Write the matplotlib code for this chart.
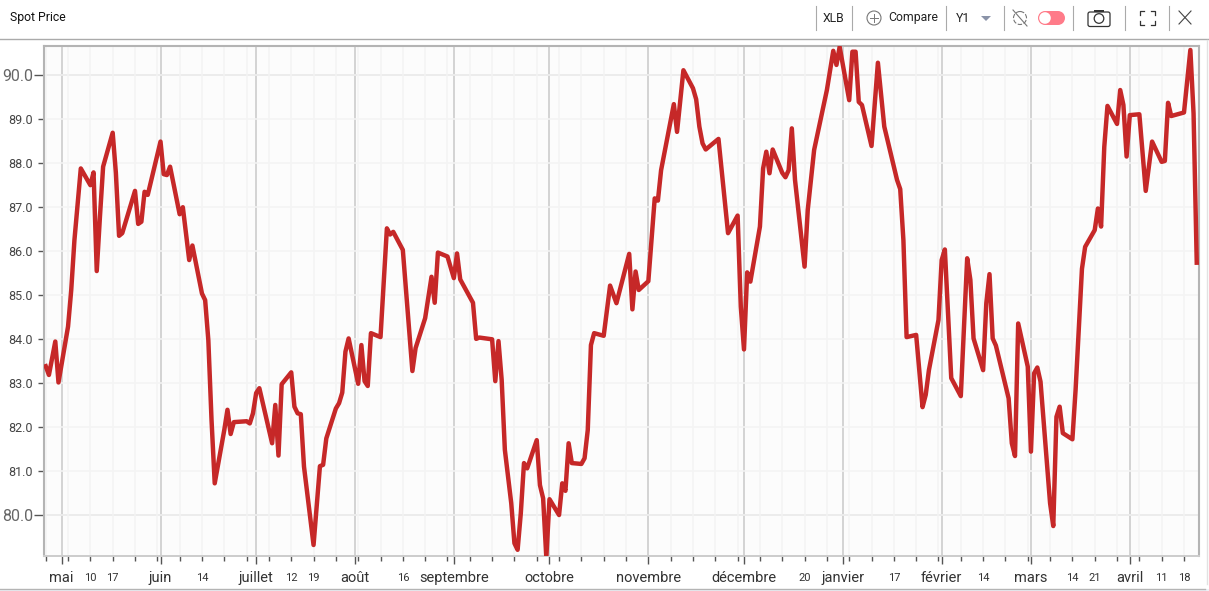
import matplotlib
matplotlib.use("Agg")
import matplotlib.pyplot as plt
import pandas as pd
from matplotlib.patches import Circle, FancyBboxPatch, Polygon, Rectangle

plt.rcParams["font.family"] = ["Roboto", "DejaVu Sans"]

# days since 1 May 2021 and XLB spot price
days = [-5, -4, -2, -1, 2, 3, 4, 6, 9, 10, 11, 12, 13, 16, 17, 18, 19, 23, 24, 25, 26, 27,
        31, 32, 33, 34, 37, 38, 40, 41, 44, 45, 46, 47, 48, 51, 52, 53, 54, 58, 59, 60, 61, 62,
        66, 67, 68, 69, 72, 73, 74, 75, 76, 79, 81, 82, 83, 86, 87, 88, 89, 90, 93, 94, 95, 96, 97,
        100, 102, 103, 104, 107, 110, 111, 114, 116, 117, 118, 121, 123, 124, 125, 129, 130, 131,
        135, 136, 137, 138, 139, 141, 142, 143, 144, 145, 146, 149, 150, 151, 152, 153,
        156, 157, 158, 159, 160, 163, 164, 165, 166, 167, 170, 172, 174, 178, 179, 180, 181,
        184, 186, 187, 188, 192, 193, 195, 198, 199, 200, 201, 202, 206, 209, 212, 213, 214, 215, 216,
        219, 220, 221, 222, 223, 226, 227, 228, 229, 230, 233, 234, 236, 240, 242, 243, 244,
        247, 248, 249, 250, 251, 254, 256, 258, 262, 263, 264, 265, 268, 270, 271, 272,
        275, 276, 277, 279, 282, 284, 285, 286, 289, 290, 291, 292, 293, 297, 298, 299, 300,
        303, 304, 305, 306, 307, 310, 311, 312, 313, 314, 317, 318, 320, 321, 324, 325, 326, 327, 328,
        331, 332, 333, 334, 335, 338, 340, 342, 345, 346, 347, 348, 352, 354, 355, 356]
prices = [83.39, 83.19, 83.95, 83.02, 84.29, 85.12, 86.25, 87.88, 87.50, 87.79, 85.55, 86.78, 87.92,
          88.69, 87.78, 86.35, 86.41, 87.37, 86.62, 86.67, 87.35, 87.28,
          88.49, 87.75, 87.73, 87.92, 86.84, 87.00, 85.80, 86.13, 85.04, 84.89, 83.98, 82.17, 80.73,
          81.94, 82.40, 81.85, 82.12, 82.14, 82.09, 82.32, 82.78, 82.89,
          81.64, 82.51, 81.36, 82.98, 83.25, 82.47, 82.32, 82.30, 81.11, 79.33, 81.12, 81.15, 81.75,
          82.43, 82.55, 82.79, 83.72, 84.02, 82.99, 83.87, 83.05, 82.94, 84.14,
          84.05, 86.52, 86.38, 86.44, 86.03, 83.28, 83.80, 84.48, 85.42, 84.83, 85.97, 85.88,
          85.39, 85.95, 85.36, 84.83, 84.01, 84.04,
          84.00, 83.05, 83.96, 83.08, 81.49, 80.28, 79.37, 79.22, 80.05, 81.19, 81.07,
          81.71, 80.69, 80.39, 79.05, 80.37,
          80.01, 80.73, 80.56, 81.64, 81.19, 81.17, 81.30, 81.94, 83.87, 84.14,
          84.08, 85.22, 84.82, 85.94, 84.68, 85.54, 85.12,
          85.32, 87.20, 87.15, 87.84, 89.34, 88.71, 90.11, 89.70, 89.45, 88.83, 88.45, 88.31,
          88.55, 86.41, 86.81, 84.74, 83.77, 85.52, 85.31,
          86.56, 87.88, 88.26, 87.77, 88.31, 87.78, 87.68, 87.84, 88.79, 87.62,
          85.65, 86.94, 88.30, 89.66, 90.55, 90.23, 90.64,
          89.43, 90.53, 90.53, 89.39, 89.32, 88.39, 90.28, 88.83, 87.62, 87.41, 86.25, 84.05,
          84.10, 82.46, 82.74, 83.30,
          84.44, 85.80, 86.04, 83.12, 82.71, 85.84, 85.35, 84.02, 83.30, 84.82, 85.48, 84.02, 83.86,
          82.66, 81.64, 81.35, 84.36,
          83.38, 81.45, 83.23, 83.36, 83.04, 80.28, 79.76, 82.24, 82.47, 81.87, 81.73, 82.85,
          85.60, 86.10, 86.48, 86.97, 86.56, 88.37, 89.30,
          88.89, 89.66, 89.32, 88.15, 89.09, 89.11, 87.37, 88.49, 88.03, 88.05, 89.37, 89.07,
          89.15, 90.57, 89.13, 85.74]

month_starts = ["2021-05-01", "2021-06-01", "2021-07-01", "2021-08-01", "2021-09-01", "2021-10-01",
                "2021-11-01", "2021-12-01", "2022-01-01", "2022-02-01", "2022-03-01", "2022-04-01"]
month_names = ["mai", "juin", "juillet", "août", "septembre", "octobre",
               "novembre", "décembre", "janvier", "février", "mars", "avril"]
monday_labels = {"2021-05-10": "10", "2021-05-17": "17", "2021-06-14": "14", "2021-07-12": "12",
                 "2021-07-19": "19", "2021-08-16": "16", "2021-12-20": "20", "2022-01-17": "17",
                 "2022-02-14": "14", "2022-03-14": "14", "2022-03-21": "21", "2022-04-11": "11",
                 "2022-04-18": "18"}
y_ticks = [80, 81, 82, 83, 84, 85, 86, 87, 88, 89, 90]

W, H = 1209, 591
fig = plt.figure(figsize=(W / 100, H / 100), dpi=100, facecolor="white")

# chart area
ax = fig.add_axes([44 / W, 1 - 556 / H, (1199 - 44) / W, (556 - 46) / H])
ax.set_facecolor("#fcfcfc")

dates = pd.Timestamp("2021-05-01") + pd.to_timedelta(days, unit="D")
ax.plot(dates, prices, color="#c62828", lw=3.2, solid_joinstyle="round", zorder=5)

ax.set_xlim(pd.Timestamp("2021-04-25 11:00"), pd.Timestamp("2022-04-22 17:00"))
ax.set_ylim(79.08, 90.66)

# monthly ticks are the major ones, weekly mondays the minor ones
mondays = pd.date_range("2021-04-26", "2022-04-18", freq="7D")
month_dates = pd.to_datetime(month_starts)
ax.set_xticks(month_dates)
ax.set_xticklabels(month_names, fontsize=10.5, color="#333333")
ax.set_xticks(mondays, minor=True)
ax.set_xticklabels([monday_labels.get(d.strftime("%Y-%m-%d"), "") for d in mondays], minor=True,
                   fontsize=8, color="#333333")
ax.tick_params(axis="x", which="major", length=6, width=1, color="#555555", pad=4.5)
ax.tick_params(axis="x", which="minor", length=3.5, width=1, color="#555555", pad=8.5)
ax.grid(True, axis="x", which="major", color="#cccccc", lw=1.2, zorder=1)
ax.grid(True, axis="x", which="minor", color="#f3f3f3", lw=1.1, zorder=0)

ax.set_yticks(y_ticks)
ax.set_yticklabels([f"{v:.1f}" for v in y_ticks], fontsize=9, color="#444444")
ax.tick_params(axis="y", length=4, width=1, color="#555555", pad=4)
ax.grid(True, axis="y", color="#f4f4f4", lw=1.1, zorder=0)
for v in [80, 90]:
    ax.axhline(v, color="#cccccc", lw=1.2, zorder=1)
    i = y_ticks.index(v)
    ax.yaxis.get_major_ticks()[i].label1.set_fontsize(11.5)
    ax.yaxis.get_major_ticks()[i].label1.set_color("#666666")
    ax.yaxis.get_major_ticks()[i].tick1line.set_markersize(7)

for side in ["left", "top", "right"]:
    ax.spines[side].set_color("#b4b4b4")
    ax.spines[side].set_linewidth(1.5)
ax.spines["bottom"].set_color("#cccccc")
ax.spines["bottom"].set_linewidth(1.4)

# toolbar and window frame, in pixel coordinates
ui = fig.add_axes([0, 0, 1, 1], zorder=10)
ui.set_xlim(0, W)
ui.set_ylim(H, 0)
ui.axis("off")
ui.patch.set_alpha(0)

ui.plot([0, W], [39, 39], color="#aaaaaa", lw=1)
ui.plot([0, 1205], [588.5, 588.5], color="#b4b4b4", lw=1)
ui.add_patch(Rectangle((0, 589), W, 2, color="#eef0f6", lw=0))
ui.plot([1207, 1207], [40, 584], color="#e2e2e2", lw=1)

ui.text(10, 18, "Spot Price", fontsize=8.8, color="#111111", va="center", ha="left")
ui.text(833.5, 18, "XLB", fontsize=8.8, color="#222222", va="center", ha="center")
ui.text(913, 18, "Compare", fontsize=8.8, color="#222222", va="center", ha="center")
ui.text(963, 18, "Y1", fontsize=8.8, color="#222222", va="center", ha="center")

for x in [815.5, 852, 946, 1004, 1073, 1125, 1169]:
    ui.plot([x, x], [6, 30], color="#aaaaaa", lw=0.8)

# compare icon
ui.add_patch(Circle((874, 18), 7, fill=False, ec="#777777", lw=0.8))
ui.plot([870, 878], [18, 18], color="#777777", lw=0.7)
ui.plot([874, 874], [14, 22], color="#777777", lw=0.7)
# dropdown arrow
ui.add_patch(Polygon([[981, 16], [991, 16], [986, 21]], color="#8a93a8", lw=0))
# sync icon
ui.add_patch(Circle((1020, 18), 6.5, fill=False, ec="#777777", lw=0.8, ls=(0, (4, 1.5))))
ui.plot([1013, 1027], [10, 26], color="#777777", lw=0.8)
# toggle
ui.add_patch(Rectangle((1045, 11), 13, 14, fc="#ff7b89", ec="none"))
ui.add_patch(Circle((1045, 18), 7, fc="#ff7b89", ec="none"))
ui.add_patch(Circle((1058, 18), 7, fc="#ff7b89", ec="none"))
ui.add_patch(Circle((1045, 18), 5.8, fc="white", ec="none"))
# camera
ui.add_patch(FancyBboxPatch((1088, 12), 22, 14.5, boxstyle="round,pad=0,rounding_size=2", fill=False,
                            ec="#333333", lw=0.9))
ui.add_patch(Rectangle((1094, 9.5), 10, 2.5, fc="#333333", ec="none"))
ui.add_patch(Circle((1099, 18.5), 4.8, fill=False, ec="#333333", lw=0.9))
# fullscreen corners
for cx, sx in [(1139.5, 1), (1154.5, -1)]:
    for cy, sy in [(10.5, 1), (25, -1)]:
        ui.plot([cx + sx * 4, cx, cx], [cy, cy, cy + sy * 4], color="#333333", lw=0.9)
# close
ui.plot([1179, 1191], [11, 24], color="#444444", lw=0.8)
ui.plot([1179, 1191], [24, 11], color="#444444", lw=0.8)

fig.savefig("out.png", dpi=100, facecolor="white")
